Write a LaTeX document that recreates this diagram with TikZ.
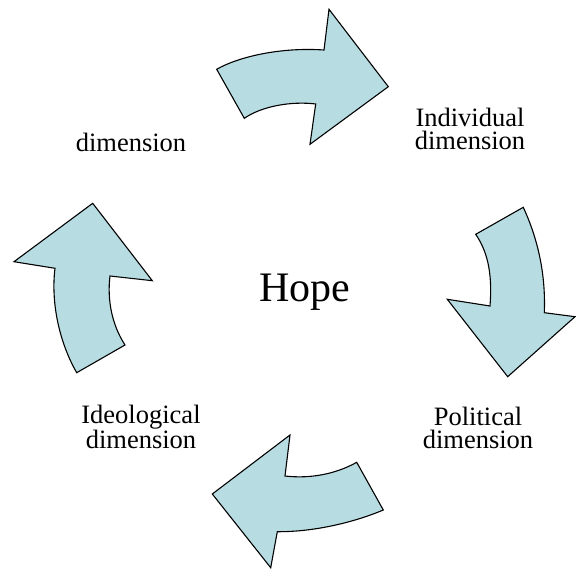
\documentclass[tikz,border=0pt]{standalone}
\usepackage{fontspec}
\setmainfont{Liberation Serif}
\definecolor{arrowfill}{RGB}{183,221,226}
\begin{document}
\begin{tikzpicture}[x=1pt,y=-1pt,
  cyclearrow/.style={draw=black,fill=arrowfill,line width=1.1pt,line join=miter},
  lbl/.style={align=center,font=\fontsize{26.5}{23.5}\selectfont,inner sep=0pt,anchor=base},
  hopelbl/.style={font=\fontsize{42}{46}\selectfont,inner sep=0pt,anchor=base}]
\useasboundingbox (0,0) rectangle (576,569);
% top arrow
\path[cyclearrow] (216.7,69.3) .. controls (238,57) and (280,47) .. (324,50)
  -- (329,9.3) -- (388.3,86.7) -- (310,144.3) -- (315.7,104)
  .. controls (292,101) and (262,106) .. (244.3,118.3) -- cycle;
% right arrow
\path[cyclearrow] (475.7,234.3) -- (523.3,207.3)
  .. controls (536,235) and (546,270) .. (544.3,312.7)
  -- (575,316.7) -- (507.7,376.7) -- (447.3,299.3) -- (490,306)
  .. controls (492,280) and (490,255) .. (475.7,234.3) -- cycle;
% bottom arrow
\path[cyclearrow] (356.7,462.3) -- (383.3,510)
  .. controls (350,524) and (310,532) .. (277.3,531.7)
  -- (270.7,567.7) -- (212.3,494) -- (290,435) -- (285,476)
  .. controls (310,479) and (336,474) .. (356.7,462.3) -- cycle;
% left arrow
\path[cyclearrow] (76.7,372.7) -- (125,345)
  .. controls (112,325) and (107,300) .. (110,276)
  -- (152.3,280.7) -- (92.7,203.3) -- (14,261.7) -- (55,268.3)
  .. controls (51,300) and (58,340) .. (76.7,372.7) -- cycle;
% labels
\node[hopelbl] (hope) at (305,301.7) {Hope};
\node[lbl] (topleft) at (131,151.7) {dimension};
\node[lbl] (indiv) at (470,150) {Individual\\dimension};
\node[lbl] (polit) at (478,449) {Political\\dimension};
\node[lbl] (ideo) at (141,449) {Ideological\\dimension};
\end{tikzpicture}
\end{document}
